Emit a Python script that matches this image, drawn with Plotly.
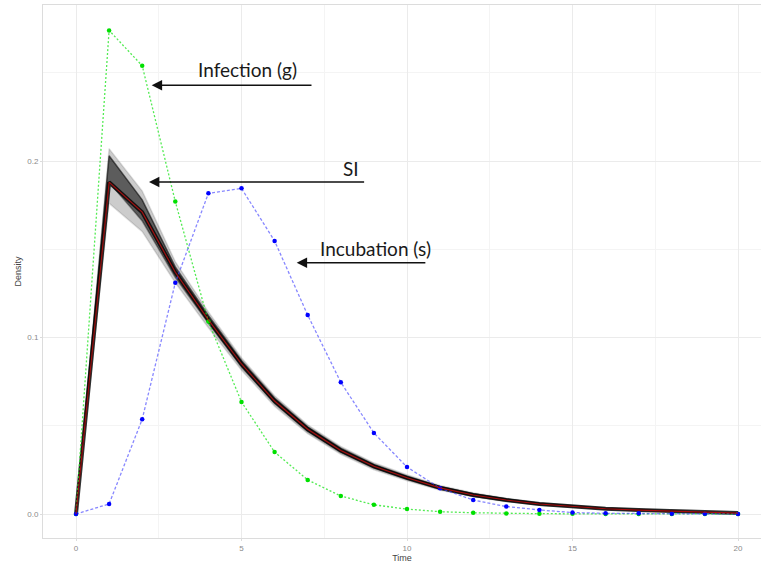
import plotly.graph_objects as go

# ---- data ----
time = list(range(0, 21))

infection_g = [0, 0.274, 0.254, 0.177, 0.109, 0.0635, 0.0351, 0.0193, 0.0102, 0.0052,
               0.0028, 0.0013, 0.0007, 0.0003, 0.0002, 0.0001, 0.00005, 0.00002, 0.00001, 0.0, 0.0]

incubation_s = [0, 0.0057, 0.0537, 0.131, 0.1817, 0.1845, 0.1547, 0.1127, 0.0746, 0.0459,
                0.0266, 0.0146, 0.0079, 0.0042, 0.0023, 0.0008, 0.0004, 0.0004, 0.0002, 0.0002, 0.0]

si_mean = [0, 0.188, 0.171, 0.137, 0.110, 0.085, 0.064, 0.048, 0.036, 0.027,
           0.0205, 0.0148, 0.0108, 0.0079, 0.0057, 0.0042, 0.0030, 0.0022, 0.0015, 0.0010, 0.0005]

# posterior SI curves: outer (faint) and inner (dense) envelopes
si_outer_hi = [0, 0.207, 0.183, 0.143, 0.1145, 0.0885, 0.0670, 0.0505, 0.0383, 0.0290,
               0.0222, 0.0162, 0.0120, 0.0089, 0.0065, 0.0049, 0.0036, 0.0027, 0.0019, 0.0013, 0.0008]
si_outer_lo = [0, 0.176, 0.160, 0.131, 0.1055, 0.0815, 0.0610, 0.0455, 0.0338, 0.0250,
               0.0188, 0.0134, 0.0097, 0.0070, 0.0050, 0.0036, 0.0025, 0.0018, 0.0012, 0.0007, 0.0003]
si_inner_hi = [0, 0.203, 0.178, 0.140, 0.1125, 0.0870, 0.0657, 0.0494, 0.0373, 0.0281,
               0.0214, 0.0156, 0.0115, 0.0085, 0.0061, 0.0046, 0.0033, 0.0025, 0.0017, 0.0012, 0.0006]
si_inner_lo = [0, 0.188, 0.166, 0.134, 0.1080, 0.0832, 0.0625, 0.0467, 0.0348, 0.0260,
               0.0196, 0.0140, 0.0101, 0.0073, 0.0053, 0.0038, 0.0027, 0.0019, 0.0013, 0.0008, 0.0004]

x_ticks = [0, 5, 10, 15, 20]
y_ticks = [0.0, 0.1, 0.2]
y_tick_labels = ["0.0", "0.1", "0.2"]

fig = go.Figure()

# SI posterior band
fig.add_trace(go.Scatter(x=time, y=si_outer_lo, mode="lines", line=dict(width=1.5, color="rgba(0,0,0,0.12)"),
                         showlegend=False, hoverinfo="skip"))
fig.add_trace(go.Scatter(x=time, y=si_outer_hi, mode="lines", line=dict(width=1.5, color="rgba(0,0,0,0.12)"),
                         fill="tonexty", fillcolor="rgba(0,0,0,0.2)", showlegend=False, hoverinfo="skip"))
fig.add_trace(go.Scatter(x=time, y=si_inner_lo, mode="lines", line=dict(width=1.5, color="rgba(0,0,0,0.35)"),
                         showlegend=False, hoverinfo="skip"))
fig.add_trace(go.Scatter(x=time, y=si_inner_hi, mode="lines", line=dict(width=1.5, color="rgba(0,0,0,0.55)"),
                         fill="tonexty", fillcolor="rgba(0,0,0,0.55)", showlegend=False, hoverinfo="skip"))
# dense core of overlapping posterior curves
fig.add_trace(go.Scatter(x=time, y=si_mean, mode="lines", line=dict(width=4, color="rgba(0,0,0,0.8)"),
                         showlegend=False, hoverinfo="skip"))

# infection (g) and incubation (s)
fig.add_trace(go.Scatter(x=time, y=infection_g, mode="lines+markers", name="Infection (g)",
                         line=dict(color="rgba(40,230,40,0.8)", width=1.3, dash="2px,2px"),
                         marker=dict(color="#00e000", size=4.5), showlegend=False))
fig.add_trace(go.Scatter(x=time, y=incubation_s, mode="lines+markers", name="Incubation (s)",
                         line=dict(color="rgba(70,70,255,0.65)", width=1.3, dash="3px,2px"),
                         marker=dict(color="#0000ff", size=4.5), showlegend=False))

# SI mean
fig.add_trace(go.Scatter(x=time, y=si_mean, mode="lines", name="SI",
                         line=dict(color="rgba(175,15,15,0.95)", width=1.1), showlegend=False))

grid_major = "#ebebeb"
grid_minor = "#f4f4f4"

fig.update_layout(
    width=761, height=567,
    margin=dict(l=43, r=0, t=5, b=29),
    paper_bgcolor="white", plot_bgcolor="white",
    font=dict(family="Liberation Sans, Arial, sans-serif", color="#333"),
    xaxis=dict(range=[-0.997, 20.695], tickvals=x_ticks, ticktext=[str(v) for v in x_ticks],
               showgrid=True, gridcolor=grid_major, gridwidth=1,
               minor=dict(dtick=2.5, tick0=0, showgrid=True, gridcolor=grid_minor, gridwidth=1),
               zeroline=False, showline=True, mirror=True, linecolor="#dcdcdc", linewidth=1,
               ticks="outside", ticklen=2, tickcolor="#dcdcdc",
               tickfont=dict(size=8, color="#8a8a8a"),
               title=dict(text="Time", font=dict(size=9, color="#444"), standoff=2)),
    yaxis=dict(range=[-0.0136, 0.2884], tickvals=y_ticks, ticktext=y_tick_labels,
               showgrid=True, gridcolor=grid_major, gridwidth=1,
               minor=dict(dtick=0.05, tick0=0, showgrid=True, gridcolor=grid_minor, gridwidth=1),
               zeroline=False, showline=True, mirror=False, linecolor="#dcdcdc", linewidth=1,
               ticks="outside", ticklen=2, tickcolor="#dcdcdc",
               tickfont=dict(size=8, color="#8a8a8a"),
               title=dict(text="Density", font=dict(size=9, color="#444"), standoff=4)),
)

label_font = dict(family="Lato, Open Sans, sans-serif", size=19, color="#1a1a1a")

labels = [("Infection (g)", 5.17, 0.2521), ("SI", 8.31, 0.196), ("Incubation (s)", 9.06, 0.1507)]
for txt, lx, ly in labels:
    fig.add_annotation(x=lx, y=ly, xref="x", yref="y", text=txt, showarrow=False, font=label_font)

arrows = [(2.287, 0.2429, 7.16), (2.205, 0.1881, 8.75), (6.668, 0.1424, 10.60)]
for hx, hy, tx in arrows:
    fig.add_annotation(x=hx, y=hy, xref="x", yref="y", ax=tx, ay=hy, axref="x", ayref="y",
                       text="", showarrow=True, arrowhead=2, arrowsize=1.3, arrowwidth=1.6,
                       arrowcolor="#111")

fig.write_html("out.html")
